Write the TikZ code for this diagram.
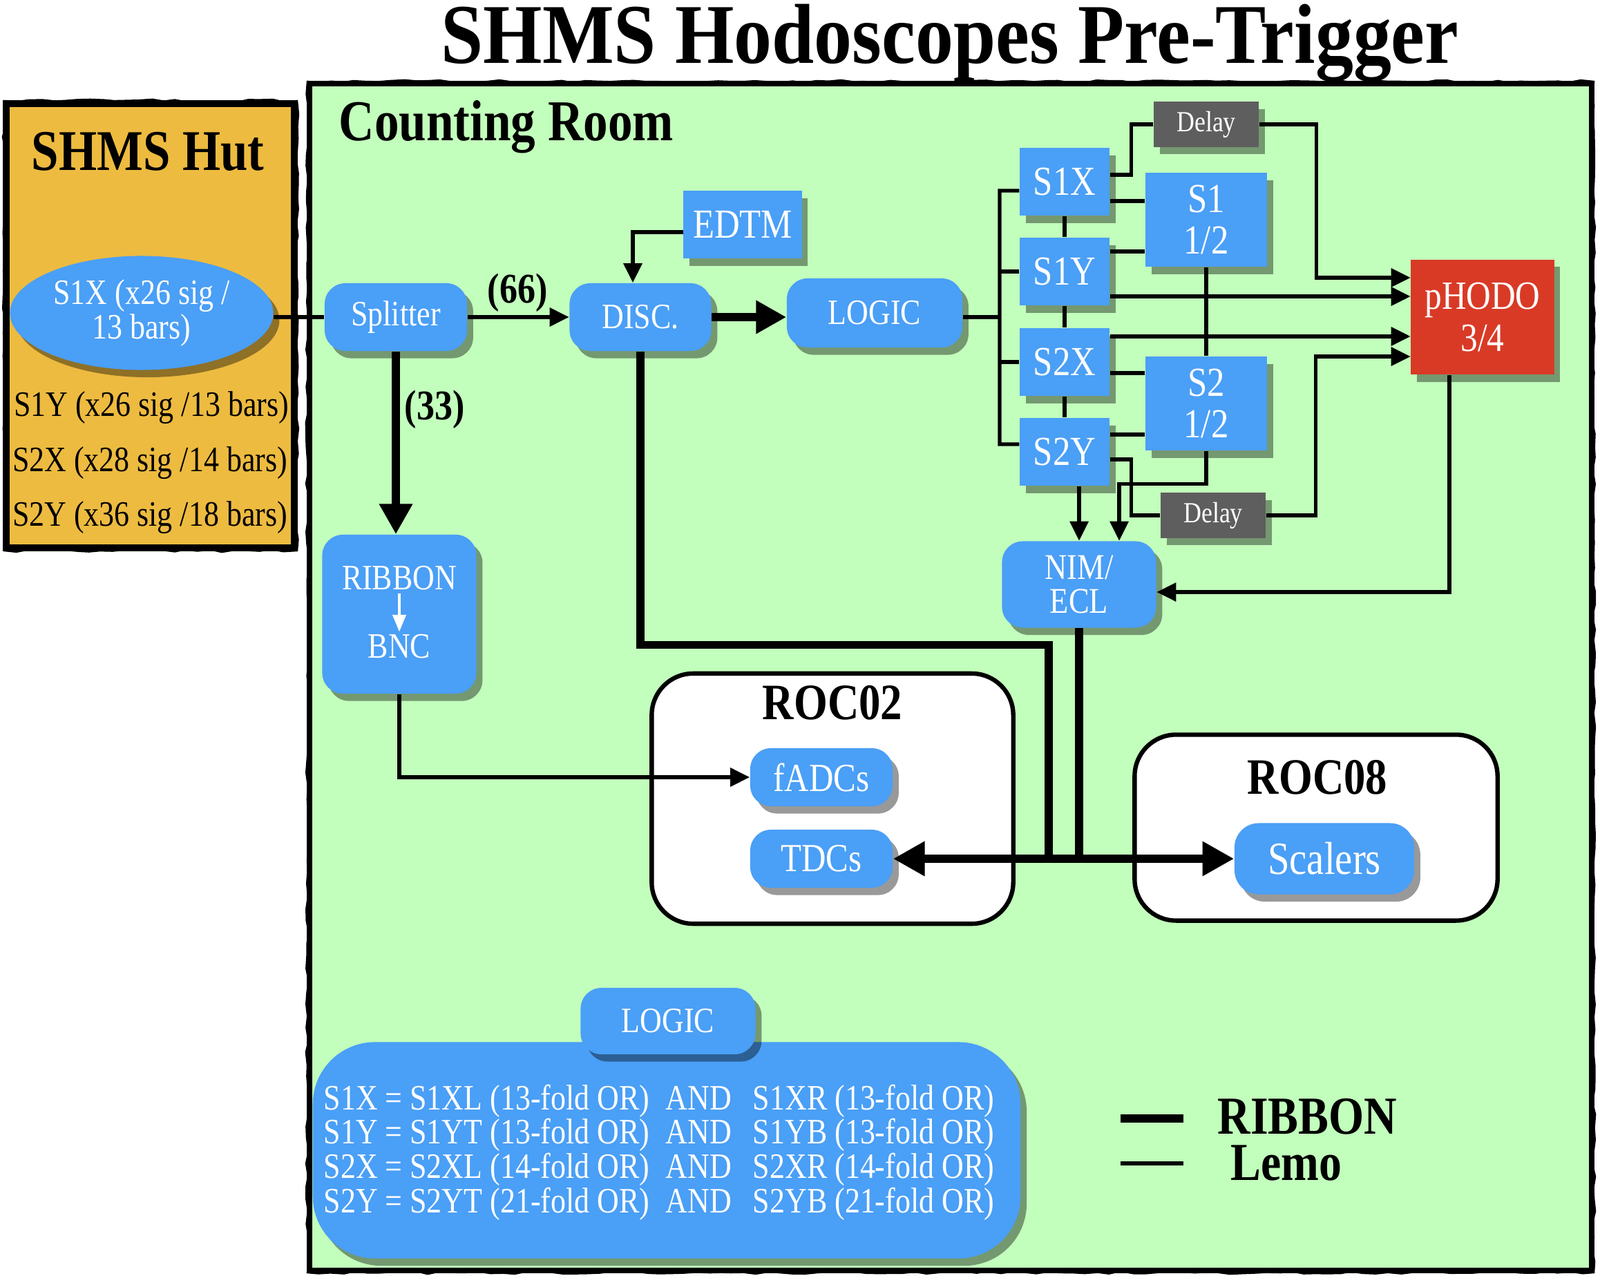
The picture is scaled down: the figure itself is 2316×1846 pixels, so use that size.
\documentclass[tikz,border=0pt]{standalone}
\usepackage{fontspec}
\setmainfont{Liberation Serif}[FakeStretch=0.85]
\usepackage{graphicx}
\usetikzlibrary{arrows.meta,shadows,shapes.geometric,decorations.pathmorphing}

\definecolor{roomgreen}{RGB}{194,254,188}
\definecolor{hutorange}{RGB}{237,187,64}
\definecolor{nodeblue}{RGB}{74,159,246}
\definecolor{hodored}{RGB}{217,58,38}
\definecolor{delaygray}{RGB}{94,94,94}

\newcommand\fsz[2]{\fontsize{#1}{#2}\selectfont}

\tikzset{
  myshadow/.style={drop shadow={shadow xshift=2.5pt,shadow yshift=-3pt,opacity=0.4,fill=black}},
  roundbox/.style={fill=nodeblue,text=white,rounded corners=0.3cm,myshadow,inner sep=0pt,align=center,font=\fsz{14.7}{14.5}},
  squarebox/.style={fill=nodeblue,text=white,myshadow,inner sep=0pt,align=center,font=\fsz{17}{17}},
  delaybox/.style={fill=delaygray,text=white,myshadow,inner sep=0pt,minimum width=1.52cm,minimum height=0.65cm,font=\fsz{12}{12}},
  rocbox/.style={fill=white,draw=black,line width=1.8pt,rounded corners=0.6cm},
  lemo/.style={line width=1.5pt},
  lemoarrow/.style={lemo,-{Triangle[length=8pt,width=7.5pt]}},
  ribbonline/.style={line width=3.2pt},
  ribbonarrow/.style={ribbonline,-{Triangle[length=12.5pt,width=13pt]}},
  ribbonboth/.style={ribbonline,{Triangle[length=13pt,width=13.5pt]}-{Triangle[length=13pt,width=13.5pt]}},
  boldlabel/.style={font=\bfseries\fsz{17.4}{17},inner sep=0pt,anchor=base},
  sketch/.style={line width=0.7pt,decorate,decoration={random steps,segment length=5pt,amplitude=0.6pt}},
}

\begin{document}
\begin{tikzpicture}[x=0.01cm,y=-0.01cm]
\useasboundingbox (0,0) rectangle (2316,1846);
\fill[white] (0,0) rectangle (2316,1846);

% title
\node[font=\bfseries\fsz{35}{35},anchor=base,inner sep=0pt] (title) at (1375,92) {\scalebox{1.05}[1]{SHMS Hodoscopes Pre-Trigger}};

% hut
\draw[line width=3pt,fill=hutorange] (9,150) rectangle (426,793);
\draw[sketch] (6,146) rectangle (430,797);
\node[font=\bfseries\fsz{23.7}{24},anchor=base,inner sep=0pt] (huttitle) at (214,247) {SHMS Hut};
\node[font=\fsz{14.7}{14},inner sep=0pt] (h1) at (219,590) {S1Y (x26 sig /13 bars)};
\node[font=\fsz{14.7}{14},inner sep=0pt] (h2) at (217,670) {S2X (x28 sig /14 bars)};
\node[font=\fsz{14.7}{14},inner sep=0pt] (h3) at (217,749) {S2Y (x36 sig /18 bars)};

% counting room
\draw[line width=2.2pt,fill=roomgreen] (448,121) rectangle (2304,1839);
\draw[sketch] (445,118) rectangle (2307,1842);
\node[font=\bfseries\fsz{23.8}{24},anchor=base west,inner sep=0pt] (crt) at (490,204) {Counting Room};

% ROC boxes
\node[rocbox,minimum width=5.23cm,minimum height=3.62cm] (roc2) at (1205,1156) {};
\node[font=\bfseries\fsz{21}{21},anchor=base,inner sep=0pt] (roc2t) at (1205,1041) {ROC02};
\node[rocbox,minimum width=5.25cm,minimum height=2.69cm] (roc8) at (1905,1198) {};
\node[font=\bfseries\fsz{21}{21},anchor=base,inner sep=0pt] (roc8t) at (1907,1149) {ROC08};

% bottom logic
\node[roundbox,minimum width=10.24cm,minimum height=3.13cm,rounded corners=0.9cm] (logbig) at (965,1665) {};
\node[roundbox,minimum width=2.53cm,minimum height=0.96cm] (logsm) at (967,1478) {LOGIC};
\node[text=white,font=\fsz{14.7}{14.1},align=left,anchor=west,inner sep=0pt] (logtxt) at (468,1668) {%
\makebox[4.95cm][l]{S1X = S1XL (13-fold OR)}\makebox[1.26cm][l]{AND}S1XR (13-fold OR)\\
\makebox[4.95cm][l]{S1Y = S1YT (13-fold OR)}\makebox[1.26cm][l]{AND}S1YB (13-fold OR)\\
\makebox[4.95cm][l]{S2X = S2XL (14-fold OR)}\makebox[1.26cm][l]{AND}S2XR (14-fold OR)\\
\makebox[4.95cm][l]{S2Y = S2YT (21-fold OR)}\makebox[1.26cm][l]{AND}S2YB (21-fold OR)};

% main nodes
\node[ellipse,fill=nodeblue,text=white,minimum width=3.81cm,minimum height=1.65cm,inner sep=0pt,myshadow,align=center,font=\fsz{14.7}{14}] (ell) at (205,453) {S1X (x26 sig /\\13 bars)};
\node[roundbox,minimum width=2.06cm,minimum height=0.98cm] (spl) at (573,459) {Splitter};
\node[roundbox,minimum width=2.05cm,minimum height=0.98cm] (disc) at (927,459) {DISC.};
\node[squarebox,minimum width=1.71cm,minimum height=0.98cm] (edtm) at (1075,325) {EDTM};
\node[roundbox,minimum width=2.54cm,minimum height=1.0cm] (logic) at (1266,453) {LOGIC};

\node[roundbox,minimum width=2.23cm,minimum height=2.30cm] (rb) at (578,889) {};
\node[text=white,font=\fsz{14.7}{14.5},inner sep=1pt] (rbt) at (578,837) {RIBBON};
\node[text=white,font=\fsz{14.7}{14.5},inner sep=1pt] (bnc) at (578,936) {BNC};
\draw[white,line width=1pt,-{Triangle[length=7pt,width=5.5pt]}] (rbt.south) -- (bnc.north);

\node[squarebox,minimum width=1.30cm,minimum height=0.98cm] (s1x) at (1541,263) {S1X};
\node[squarebox,minimum width=1.30cm,minimum height=0.98cm] (s1y) at (1541,393) {S1Y};
\node[squarebox,minimum width=1.30cm,minimum height=0.98cm] (s2x) at (1541,524) {S2X};
\node[squarebox,minimum width=1.30cm,minimum height=0.98cm] (s2y) at (1541,654) {S2Y};
\node[squarebox,minimum width=1.76cm,minimum height=1.36cm,font=\fsz{17}{16.8}] (s1h) at (1746,318) {S1\\1/2};
\node[squarebox,minimum width=1.76cm,minimum height=1.36cm,font=\fsz{17}{16.8}] (s2h) at (1746,584) {S2\\1/2};
\node[delaybox] (dly1) at (1746,180) {Delay};
\node[delaybox] (dly2) at (1756,746) {Delay};
\node[squarebox,fill=hodored,minimum width=2.07cm,minimum height=1.66cm,font=\fsz{16.5}{17.5}] (phodo) at (2146,459) {pHODO\\3/4};
\node[roundbox,minimum width=2.23cm,minimum height=1.25cm,font=\fsz{14.9}{14.2}] (nim) at (1562,846) {NIM/\\ECL};

\node[roundbox,minimum width=2.06cm,minimum height=0.84cm,font=\fsz{16.4}{16}] (fadc) at (1189,1125) {fADCs};
\node[roundbox,minimum width=2.06cm,minimum height=0.84cm,font=\fsz{16.4}{16}] (tdc) at (1189,1243) {TDCs};
\node[roundbox,minimum width=2.60cm,minimum height=1.03cm,font=\fsz{19}{19},rounded corners=0.35cm] (scal) at (1917,1243) {Scalers};

% labels
\node[boldlabel] (n66) at (749,439) {(66)};
\node[boldlabel] (n33) at (629,607) {(33)};

% connectors
\draw[lemo] (ell.east |- spl.west) -- (spl.west);
\draw[lemoarrow] (spl.east) -- (disc.west);
\draw[ribbonarrow] (spl.south) -- (spl.south |- rb.north);
\draw[lemoarrow] ([yshift=-0.11cm]edtm.west) -| ([xshift=-0.11cm]disc.north);
\draw[ribbonarrow] (disc.east) -- (disc.east -| logic.west);

\coordinate (bt) at (1447,276);
\draw[lemo] (disc.east -| logic.east) -- (disc.east -| bt);
\draw[lemo] ([yshift=0.11cm]s2y.west) -| (bt) -- ([yshift=-0.13cm]s1x.west);
\draw[lemo] (s1y.west) -- (s1y.west -| bt);
\draw[lemo] (s2x.west) -- (s2x.west -| bt);
\draw[lemo] (s1x) -- (s1y) (s1y) -- (s2x) (s2x) -- (s2y);

\draw[lemo] ([yshift=-0.28cm]s1x.east) -- ([yshift=-0.28cm]s1x.east -| s1h.west);
\draw[lemo] ([yshift=0.29cm]s1y.east) -- ([yshift=0.29cm]s1y.east -| s1h.west);
\draw[lemo] ([yshift=-0.16cm]s2x.east) -- ([yshift=-0.16cm]s2x.east -| s2h.west);
\draw[lemo] ([yshift=0.25cm]s2y.east) -- ([yshift=0.25cm]s2y.east -| s2h.west);
\draw[lemo] (s1h) -- (s2h);

\draw[lemo] ([yshift=0.1cm]s1x.east) -- ++(31,0) |- (dly1.west);
\draw[lemoarrow] (dly1.east) -- ++(83,0) |- ([yshift=0.57cm]phodo.west);
\draw[lemo] ([yshift=-0.11cm]s2y.east) -- ++(31,0) |- (dly2.west);
\draw[lemoarrow] (dly2.east) -- ++(72,0) |- ([yshift=-0.57cm]phodo.west);
\draw[lemoarrow] ([yshift=-0.36cm]s1y.east) -- ([yshift=-0.36cm]s1y.east -| phodo.west);
\draw[lemoarrow] ([yshift=0.37cm]s2x.east) -- ([yshift=0.37cm]s2x.east -| phodo.west);

\draw[lemoarrow] (s2y.south -| nim.north) -- (nim.north);
\draw[lemoarrow] (s2h.south) -- ++(0,48) -| ([xshift=0.58cm]nim.north);
\draw[lemoarrow] ([xshift=-0.48cm]phodo.south) |- ([yshift=-0.11cm]nim.east);

\coordinate (busd) at (1518,1243);
\draw[ribbonline] (disc.south) -- ++(0,425) -| (busd);
\draw[ribbonline] (nim.south) -- (nim.south |- tdc.east);
\draw[ribbonboth] (tdc.east) -- (scal.west);
\draw[lemoarrow] (rb.south) |- (fadc.west);

% legend
\coordinate (lgA1) at (1622,1619); \coordinate (lgA2) at (1713,1619);
\coordinate (lgB1) at (1622,1684); \coordinate (lgB2) at (1713,1684);
\draw[ribbonline,line width=3.4pt] (lgA1) -- (lgA2);
\draw[lemo,line width=1.7pt] (lgB1) -- (lgB2);
\node[font=\bfseries\fsz{22}{22},anchor=base west,inner sep=0pt] (lgA) at (1762,1641) {RIBBON};
\node[font=\bfseries\fsz{22}{22},anchor=base west,inner sep=0pt] (lgB) at (1781,1708) {Lemo};
\end{tikzpicture}
\end{document}
